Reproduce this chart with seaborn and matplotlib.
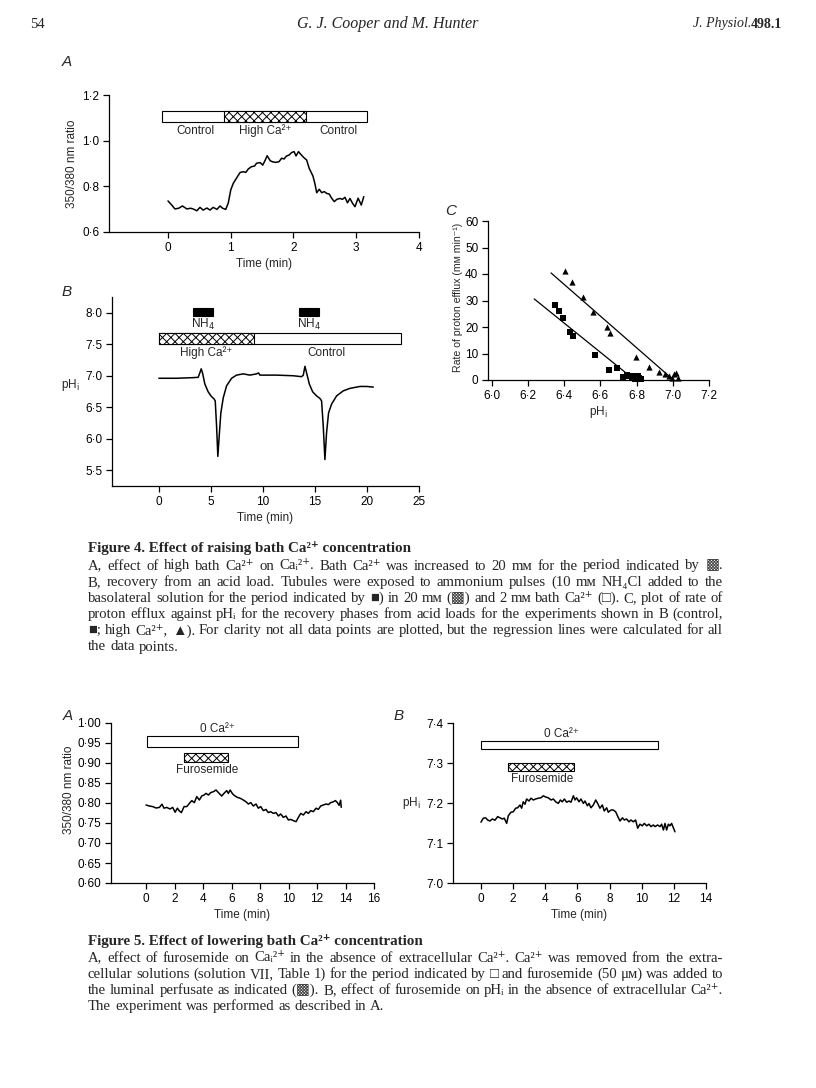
import numpy as np
import pandas as pd
import matplotlib
matplotlib.use("Agg")
import matplotlib.pyplot as plt
from matplotlib.ticker import FuncFormatter, MultipleLocator
import seaborn as sns

# ---- data ----
# Fig 4A: Ca ratio trace
fig4a_time = [0.0, 0.06, 0.11, 0.17, 0.23, 0.30, 0.36, 0.40, 0.46, 0.51,
              0.56, 0.62, 0.67, 0.72, 0.78, 0.83, 0.87, 0.92, 0.96, 1.00,
              1.04, 1.09, 1.15, 1.20, 1.24, 1.28, 1.33, 1.38, 1.41, 1.47,
              1.51, 1.55, 1.58, 1.63, 1.67, 1.72, 1.77, 1.81, 1.85, 1.89,
              1.93, 1.97, 2.01, 2.04, 2.08, 2.11, 2.16, 2.21, 2.25, 2.31,
              2.34, 2.37, 2.41, 2.45, 2.49, 2.53, 2.57, 2.61, 2.65, 2.69,
              2.74, 2.78, 2.82, 2.86, 2.90, 2.94, 2.98, 3.03, 3.08, 3.12]
fig4a_ratio = [0.736, 0.718, 0.701, 0.704, 0.714, 0.701, 0.704, 0.701, 0.693, 0.708,
               0.696, 0.705, 0.696, 0.708, 0.699, 0.714, 0.704, 0.699, 0.726, 0.784,
               0.813, 0.835, 0.861, 0.864, 0.861, 0.876, 0.886, 0.889, 0.901, 0.904,
               0.893, 0.915, 0.934, 0.912, 0.907, 0.905, 0.908, 0.923, 0.920, 0.933,
               0.937, 0.948, 0.952, 0.933, 0.952, 0.942, 0.927, 0.915, 0.879, 0.845,
               0.813, 0.772, 0.787, 0.772, 0.777, 0.769, 0.766, 0.747, 0.733, 0.743,
               0.747, 0.743, 0.752, 0.728, 0.747, 0.726, 0.711, 0.748, 0.718, 0.755]
fig4a_control = [-0.1, 3.17]
fig4a_highca = [0.9, 2.2]

# Fig 4B: pHi trace with two NH4 pulses
fig4b_time = [0.0, 1.7, 3.3, 3.78, 3.94, 4.07, 4.2, 4.42, 4.74, 5.06,
              5.32, 5.42, 5.55, 5.67, 5.8, 5.96, 6.19, 6.51, 6.99, 7.47,
              8.11, 8.75, 9.39, 9.58, 9.71, 11.31, 12.92, 13.72, 13.88, 14.04,
              14.2, 14.46, 14.78, 15.16, 15.48, 15.64, 15.8, 15.96, 16.12, 16.31,
              16.6, 17.08, 17.72, 18.37, 19.33, 19.97, 20.61]
fig4b_ph = [6.96, 6.96, 6.97, 6.975, 7.045, 7.11, 7.045, 6.87, 6.745, 6.67,
            6.63, 6.60, 6.20, 5.72, 6.04, 6.41, 6.65, 6.84, 6.96, 7.01,
            7.03, 7.01, 7.03, 7.045, 7.01, 7.01, 7.0, 6.985, 7.01, 7.15,
            7.045, 6.87, 6.745, 6.68, 6.64, 6.60, 6.20, 5.67, 6.10, 6.41,
            6.55, 6.68, 6.76, 6.80, 6.83, 6.83, 6.82]
fig4b_nh4_start = [3.3, 13.5]
fig4b_nh4_stop = [5.2, 15.4]
fig4b_control = [0.0, 23.3]
fig4b_highca = [0.0, 9.15]

# Fig 4C: proton efflux vs pHi
ctrl_ph = [6.348, 6.374, 6.396, 6.435, 6.450, 6.572, 6.646, 6.694, 6.728, 6.746,
           6.761, 6.776, 6.787, 6.798, 6.806, 6.815, 6.820, 6.790, 6.810, 6.825]
ctrl_rate = [28.2, 26.0, 23.4, 18.2, 16.5, 9.6, 3.6, 4.7, 1.3, 2.0,
             1.5, 1.1, 1.5, 0.6, 1.6, 0.9, 0.5, 0.3, 0.2, 0.4]
high_ph = [6.404, 6.443, 6.507, 6.561, 6.635, 6.654, 6.798, 6.870, 6.922, 6.959,
           6.980, 6.996, 7.009, 7.018, 7.028]
high_rate = [41.1, 37.1, 31.3, 25.8, 20.0, 17.7, 8.7, 4.9, 3.1, 2.1,
             1.4, 0.9, 2.1, 2.8, 0.6]
ctrl_fit_ph = [6.235, 6.79]
ctrl_fit_rate = [30.6, 0.0]
high_fit_ph = [6.328, 7.004]
high_fit_rate = [40.4, 0.0]

# Fig 5A: Ca ratio with furosemide in 0 Ca
fig5a_time = [0.0, 0.23, 0.47, 0.70, 0.94, 1.12, 1.26, 1.45, 1.68, 1.87,
              2.04, 2.20, 2.34, 2.48, 2.67, 2.86, 3.04, 3.21, 3.39, 3.56,
              3.74, 3.91, 4.07, 4.21, 4.38, 4.54, 4.73, 4.91, 5.08, 5.31,
              5.47, 5.66, 5.78, 5.90, 6.08, 6.25, 6.41, 6.60, 6.83, 7.02,
              7.18, 7.35, 7.53, 7.72, 7.88, 8.05, 8.23, 8.42, 8.58, 8.75,
              8.93, 9.12, 9.29, 9.45, 9.64, 9.82, 9.99, 10.15, 10.34, 10.53,
              10.69, 10.86, 11.04, 11.23, 11.39, 11.56, 11.74, 11.93, 12.09, 12.26,
              12.44, 12.63, 12.80, 12.96, 13.15, 13.29, 13.43, 13.55, 13.66, 13.70]
fig5a_ratio = [0.795, 0.7925, 0.791, 0.7875, 0.789, 0.797, 0.787, 0.789, 0.785, 0.789,
               0.777, 0.787, 0.780, 0.776, 0.791, 0.791, 0.799, 0.806, 0.801, 0.816,
               0.8075, 0.8175, 0.820, 0.824, 0.820, 0.826, 0.8283, 0.8325, 0.826, 0.8175,
               0.824, 0.831, 0.824, 0.8325, 0.8225, 0.8175, 0.814, 0.812, 0.8075, 0.803,
               0.7975, 0.801, 0.7925, 0.7975, 0.787, 0.791, 0.781, 0.784, 0.776, 0.7783,
               0.774, 0.776, 0.7675, 0.7725, 0.764, 0.7675, 0.7575, 0.759, 0.756, 0.7533,
               0.764, 0.774, 0.770, 0.7783, 0.774, 0.781, 0.7783, 0.787, 0.784, 0.7925,
               0.795, 0.7975, 0.796, 0.801, 0.803, 0.806, 0.801, 0.794, 0.807, 0.789]
fig5a_zero_ca = [0.07, 10.7]
fig5a_furo = [2.67, 5.75]

# Fig 5B: pHi with furosemide in 0 Ca
fig5b_time = [0.0, 0.145, 0.29, 0.415, 0.56, 0.70, 0.87, 1.04, 1.18, 1.33,
              1.45, 1.60, 1.70, 1.87, 2.01, 2.16, 2.28, 2.43, 2.53, 2.63,
              2.74, 2.84, 2.99, 3.11, 3.26, 3.40, 3.57, 3.73, 3.88, 4.02,
              4.19, 4.36, 4.50, 4.65, 4.81, 4.94, 5.06, 5.19, 5.33, 5.48,
              5.60, 5.75, 5.85, 5.95, 6.10, 6.22, 6.37, 6.47, 6.62, 6.72,
              6.84, 6.99, 7.14, 7.26, 7.40, 7.55, 7.67, 7.82, 7.92, 8.09,
              8.23, 8.38, 8.55, 8.65, 8.80, 8.92, 9.06, 9.21, 9.33, 9.48,
              9.62, 9.75, 9.89, 10.04, 10.16, 10.31, 10.45, 10.58, 10.72, 10.83,
              10.99, 11.14, 11.24, 11.35, 11.45, 11.55, 11.66, 11.76, 11.86, 11.97,
              12.07]
fig5b_ph = [7.152, 7.162, 7.163, 7.1575, 7.155, 7.160, 7.157, 7.166, 7.163, 7.160,
            7.162, 7.149, 7.168, 7.177, 7.178, 7.187, 7.188, 7.195, 7.187, 7.203,
            7.197, 7.210, 7.205, 7.212, 7.2075, 7.210, 7.212, 7.213, 7.218, 7.215,
            7.213, 7.2075, 7.210, 7.203, 7.199, 7.2075, 7.203, 7.210, 7.202, 7.205,
            7.202, 7.218, 7.2075, 7.213, 7.203, 7.210, 7.199, 7.205, 7.193, 7.199,
            7.188, 7.195, 7.2075, 7.199, 7.187, 7.195, 7.180, 7.188, 7.177, 7.1825,
            7.1825, 7.178, 7.163, 7.155, 7.163, 7.1575, 7.160, 7.153, 7.1575, 7.153,
            7.1575, 7.137, 7.147, 7.143, 7.149, 7.143, 7.147, 7.141, 7.145, 7.141,
            7.145, 7.141, 7.147, 7.1325, 7.149, 7.1325, 7.147, 7.143, 7.149, 7.138,
            7.128]
fig5b_zero_ca = [0.0, 11.0]
fig5b_furo = [1.7, 5.8]

fig4_caption = [
    "A, effect of high bath Ca²⁺ on Caᵢ²⁺. Bath Ca²⁺ was increased to 20 mм for the period indicated by ▩.",
    "B, recovery from an acid load. Tubules were exposed to ammonium pulses (10 mм NH₄Cl added to the",
    "basolateral solution for the period indicated by ■) in 20 mм (▩) and 2 mм bath Ca²⁺ (□). C, plot of rate of",
    "proton efflux against pHᵢ for the recovery phases from acid loads for the experiments shown in B (control,",
    "■; high Ca²⁺, ▲). For clarity not all data points are plotted, but the regression lines were calculated for all",
    "the data points.",
]
fig5_caption = [
    "A, effect of furosemide on Caᵢ²⁺ in the absence of extracellular Ca²⁺. Ca²⁺ was removed from the extra-",
    "cellular solutions (solution VII, Table 1) for the period indicated by □ and furosemide (50 μм) was added to",
    "the luminal perfusate as indicated (▩). B, effect of furosemide on pHᵢ in the absence of extracellular Ca²⁺.",
    "The experiment was performed as described in A.",
]

# ---- style ----
sns.set_style("ticks")
plt.rcParams["font.family"] = ["Liberation Sans", "DejaVu Sans"]
plt.rcParams["hatch.linewidth"] = 0.7
W, H = 816, 1088
fig = plt.figure(figsize=(W / 100, H / 100), dpi=100)


def fx(px):
    return px / W


def fy(py):
    return 1 - py / H


def axes_px(left, top, right, bottom):
    return fig.add_axes([fx(left), fy(bottom), (right - left) / W, (bottom - top) / H])


def dot_fmt(nd):
    return FuncFormatter(lambda v, p: f"{v:.{nd}f}".replace(".", "·"))


def style(ax):
    sns.despine(ax=ax)
    for s in ["left", "bottom"]:
        ax.spines[s].set_linewidth(0.9)
        ax.spines[s].set_color("black")
    ax.tick_params(direction="out", length=4, width=0.9, labelsize=8.5, pad=3,
                   color="black", labelcolor="black")


def period_bar(ax, span, y, h, fc="white", hatch=None):
    ax.barh(y, span[1] - span[0], left=span[0], height=h, color=fc,
            edgecolor="black", linewidth=0.8, hatch=hatch, zorder=3)


def trace(ax, t, v):
    sns.lineplot(x=t, y=v, ax=ax, color="black", linewidth=1.1, estimator=None)


lab = dict(fontsize=8.5, ha="center", va="center")

# ---- Fig 4A ----
ax = axes_px(109, 95, 419, 232)
trace(ax, fig4a_time, fig4a_ratio)
period_bar(ax, fig4a_control, 1.106, 0.048)
period_bar(ax, fig4a_highca, 1.106, 0.048, hatch="xxxx")
ax.text(0.43, 1.044, "Control", **lab)
ax.text(1.55, 1.044, "High Ca²⁺", **lab)
ax.text(2.72, 1.044, "Control", **lab)
ax.set_xlim(-0.94, 4)
ax.set_ylim(0.6, 1.2)
ax.set_xticks([0, 1, 2, 3, 4])
ax.yaxis.set_major_locator(MultipleLocator(0.2))
ax.yaxis.set_major_formatter(dot_fmt(1))
ax.set_xlabel("Time (min)", fontsize=8.5, labelpad=3)
ax.set_ylabel("350/380 nm ratio", fontsize=8.5)
ax.yaxis.set_label_coords(-0.10, 0.5)
style(ax)

# ---- Fig 4B ----
ax = axes_px(112, 297, 419, 486)
trace(ax, fig4b_time, fig4b_ph)
for a, b in zip(fig4b_nh4_start, fig4b_nh4_stop):
    period_bar(ax, [a, b], 8.015, 0.13, fc="black")
    ax.text((a + b) / 2, 7.82, "NH$_4$", **lab)
period_bar(ax, fig4b_control, 7.59, 0.18)
period_bar(ax, fig4b_highca, 7.59, 0.18, hatch="xxxx")
ax.text(4.6, 7.36, "High Ca²⁺", **lab)
ax.text(16.1, 7.36, "Control", **lab)
ax.set_xlim(-4.5, 25)
ax.set_ylim(5.25, 8.25)
ax.set_xticks([0, 5, 10, 15, 20, 25])
ax.set_yticks([5.5, 6.0, 6.5, 7.0, 7.5, 8.0])
ax.yaxis.set_major_formatter(dot_fmt(1))
ax.set_xlabel("Time (min)", fontsize=8.5, labelpad=3)
ax.text(-0.135, 0.534, "pH$_{\\rm i}$", transform=ax.transAxes, **lab)
style(ax)

# ---- Fig 4C ----
ax = axes_px(488, 221, 709, 380)
sns.lineplot(x=ctrl_fit_ph, y=ctrl_fit_rate, ax=ax, color="black", linewidth=0.9)
sns.lineplot(x=high_fit_ph, y=high_fit_rate, ax=ax, color="black", linewidth=0.9)
sns.scatterplot(x=ctrl_ph, y=ctrl_rate, ax=ax, marker="s", s=16, color="black",
                linewidth=0, zorder=4, clip_on=False)
sns.scatterplot(x=high_ph, y=high_rate, ax=ax, marker="^", s=20, color="black",
                linewidth=0, zorder=4, clip_on=False)
ax.set_xlim(5.98, 7.2)
ax.set_ylim(0, 60)
ax.set_xticks([6.0, 6.2, 6.4, 6.6, 6.8, 7.0, 7.2])
ax.xaxis.set_major_formatter(dot_fmt(1))
ax.yaxis.set_major_locator(MultipleLocator(10))
ax.set_xlabel("pH$_{\\rm i}$", fontsize=8.5, labelpad=2)
ax.set_ylabel("Rate of proton efflux (mм min⁻¹)", fontsize=7.6)
ax.yaxis.set_label_coords(-0.115, 0.52)
style(ax)

# ---- Fig 5A ----
ax = axes_px(111, 723, 374, 883)
trace(ax, fig5a_time, fig5a_ratio)
period_bar(ax, fig5a_zero_ca, 0.954, 0.028)
period_bar(ax, fig5a_furo, 0.9135, 0.023, hatch="xxxx")
ax.text(5.0, 0.985, "0 Ca²⁺", **lab)
ax.text(4.3, 0.883, "Furosemide", **lab)
ax.set_xlim(-2.46, 16)
ax.set_ylim(0.6, 1.0)
ax.set_xticks([0, 2, 4, 6, 8, 10, 12, 14, 16])
ax.yaxis.set_major_locator(MultipleLocator(0.05))
ax.yaxis.set_major_formatter(dot_fmt(2))
ax.set_xlabel("Time (min)", fontsize=8.5, labelpad=3)
ax.set_ylabel("350/380 nm ratio", fontsize=8.5)
ax.yaxis.set_label_coords(-0.135, 0.58)
style(ax)

# ---- Fig 5B ----
ax = axes_px(453, 723, 706, 883)
trace(ax, fig5b_time, fig5b_ph)
period_bar(ax, fig5b_zero_ca, 7.345, 0.02)
period_bar(ax, fig5b_furo, 7.29, 0.02, hatch="xxxx")
ax.text(5.0, 7.372, "0 Ca²⁺", **lab)
ax.text(3.8, 7.26, "Furosemide", **lab)
ax.set_xlim(-1.74, 14)
ax.set_ylim(7.0, 7.4)
ax.set_xticks([0, 2, 4, 6, 8, 10, 12, 14])
ax.yaxis.set_major_locator(MultipleLocator(0.1))
ax.yaxis.set_major_formatter(dot_fmt(1))
ax.set_xlabel("Time (min)", fontsize=8.5, labelpad=3)
ax.text(-0.165, 0.5, "pH$_{\\rm i}$", transform=ax.transAxes, **lab)
style(ax)

# ---- panel letters ----
for s, x, y in [("A", 67, 62), ("B", 67, 292), ("C", 451, 211), ("A", 68, 716), ("B", 399, 716)]:
    fig.text(fx(x), fy(y), s, fontsize=11, style="italic", ha="center", va="center")

# ---- page header ----
serif = ["Liberation Serif", "DejaVu Sans"]
fig.text(fx(30), fy(24), "54", family=serif, fontsize=10.5, va="center")
fig.text(fx(388), fy(24), "G. J. Cooper and M. Hunter", family=serif, fontsize=11.5,
         style="italic", ha="center", va="center")
fig.text(fx(751), fy(24), "J. Physiol.", family=serif, fontsize=10, style="italic",
         ha="right", va="center")
fig.text(fx(782), fy(24), "498.1", family=serif, fontsize=10, weight="bold",
         ha="right", va="center")

# ---- captions (justified word by word) ----
renderer = fig.canvas.get_renderer()


def caption(lines, y0, x0=88, x1=723, step=16.2, size=10.6):
    for i, line in enumerate(lines):
        y = fy(y0 + i * step)
        words = line.split(" ")
        texts = [fig.text(0, y, w, family=serif, fontsize=size, va="center") for w in words]
        widths = [t.get_window_extent(renderer).width for t in texts]
        space = size * 100 / 72 * 0.27
        if i < len(lines) - 1 and len(words) > 1:
            gap = max((x1 - x0 - sum(widths)) / (len(words) - 1), 1.5)
        else:
            gap = space
        x = x0
        for t, w in zip(texts, widths):
            t.set_x(fx(x))
            x += w + gap


fig.text(fx(88), fy(548), "Figure 4. Effect of raising bath Ca²⁺ concentration", family=serif,
         fontsize=10.8, weight="bold", va="center")
caption(fig4_caption, 566)
fig.text(fx(88), fy(941), "Figure 5. Effect of lowering bath Ca²⁺ concentration", family=serif,
         fontsize=10.8, weight="bold", va="center")
caption(fig5_caption, 958)

fig.savefig("out.png", dpi=100)
